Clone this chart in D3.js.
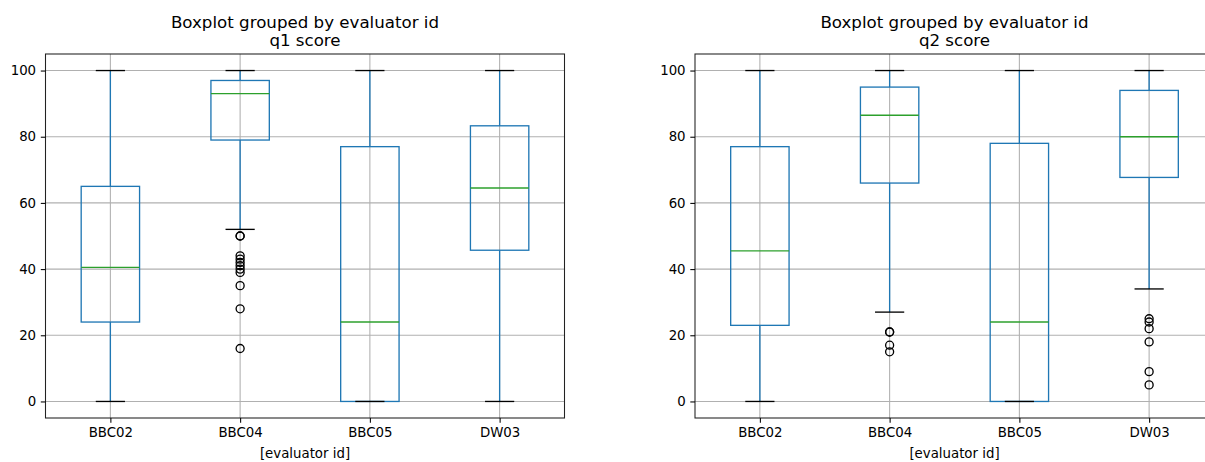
<!DOCTYPE html>
<html>
<head>
<meta charset="utf-8">
<script src="https://cdn.jsdelivr.net/npm/d3@7"></script>
<style>
  html, body { margin: 0; padding: 0; background: #fff; }
  svg { display: block; }
  text { font-family: "DejaVu Sans", sans-serif; fill: #000; }
</style>
</head>
<body>
<svg id="chart" width="1205" height="462"></svg>
<script>
const categories = ["BBC02", "BBC04", "BBC05", "DW03"];
const yTicks = [0, 20, 40, 60, 80, 100];

// q1 score
const q1Low = [0, 52, 0, 0];
const q1Q1 = [24, 79, 0, 45.7];
const q1Median = [40.5, 93, 24, 64.5];
const q1Q3 = [65, 97, 77, 83.3];
const q1High = [100, 100, 100, 100];
const q1Outliers = [[], [50, 50, 44, 43, 42, 41, 40, 39, 35, 28, 16], [], []];

// q2 score
const q2Low = [0, 27, 0, 34];
const q2Q1 = [23, 66, 0, 67.7];
const q2Median = [45.5, 86.5, 24, 80];
const q2Q3 = [77, 95, 78, 94];
const q2High = [100, 100, 100, 100];
const q2Outliers = [[], [21, 21, 17, 15], [], [25, 24, 22, 18, 9, 5]];

const panels = [
  { title: "q1 score", left: 45.5, low: q1Low, q1: q1Q1, med: q1Median, q3: q1Q3, high: q1High, out: q1Outliers },
  { title: "q2 score", left: 695, low: q2Low, q1: q2Q1, med: q2Median, q3: q2Q3, high: q2High, out: q2Outliers }
];

const svg = d3.select("#chart");
const W = 519, plotTop = 54, plotBottom = 418;
const blue = "#1f77b4", green = "#2ca02c", grid = "#b0b0b0";

panels.forEach(p => {
  const x = d3.scaleLinear().domain([0.5, 4.5]).range([p.left, p.left + W]);
  const y = d3.scaleLinear().domain([-5, 105]).range([plotBottom, plotTop]);
  const g = svg.append("g");

  // grid
  g.selectAll(".gy").data(yTicks).join("line")
    .attr("x1", p.left).attr("x2", p.left + W)
    .attr("y1", d => y(d)).attr("y2", d => y(d))
    .attr("stroke", grid).attr("stroke-width", 1.07);
  g.selectAll(".gx").data(categories).join("line")
    .attr("x1", (d, i) => x(i + 1)).attr("x2", (d, i) => x(i + 1))
    .attr("y1", plotTop).attr("y2", plotBottom)
    .attr("stroke", grid).attr("stroke-width", 1.07);

  const bw = 0.45, cw = 0.225;
  categories.forEach((c, i) => {
    const cx = x(i + 1);
    const hb = (x(1 + bw / 2) - x(1));
    const hc = (x(1 + cw / 2) - x(1));
    // whiskers
    g.append("line").attr("x1", cx).attr("x2", cx)
      .attr("y1", y(p.q3[i])).attr("y2", y(p.high[i]))
      .attr("stroke", blue).attr("stroke-width", 1.33);
    g.append("line").attr("x1", cx).attr("x2", cx)
      .attr("y1", y(p.q1[i])).attr("y2", y(p.low[i]))
      .attr("stroke", blue).attr("stroke-width", 1.33);
    // box
    g.append("rect").attr("x", cx - hb).attr("width", 2 * hb)
      .attr("y", y(p.q3[i])).attr("height", y(p.q1[i]) - y(p.q3[i]))
      .attr("fill", "none").attr("stroke", blue).attr("stroke-width", 1.33);
    // caps
    [p.high[i], p.low[i]].forEach(v => {
      g.append("line").attr("x1", cx - hc).attr("x2", cx + hc)
        .attr("y1", y(v)).attr("y2", y(v))
        .attr("stroke", "#000").attr("stroke-width", 1.33);
    });
    // median
    g.append("line").attr("x1", cx - hb).attr("x2", cx + hb)
      .attr("y1", y(p.med[i])).attr("y2", y(p.med[i]))
      .attr("stroke", green).attr("stroke-width", 1.33);
    // outliers
    g.selectAll(null).data(p.out[i]).join("circle")
      .attr("cx", cx).attr("cy", d => y(d)).attr("r", 4)
      .attr("fill", "none").attr("stroke", "#000").attr("stroke-width", 1.33);
  });

  // frame
  g.append("rect").attr("x", p.left).attr("y", plotTop).attr("width", W).attr("height", plotBottom - plotTop)
    .attr("fill", "none").attr("stroke", "#222").attr("stroke-width", 1.07);

  // y axis
  const ya = d3.axisLeft(y).tickValues(yTicks).tickSize(4.7).tickPadding(4.7);
  const yg = g.append("g").attr("transform", `translate(${p.left},0)`).call(ya);
  yg.select(".domain").remove();
  yg.selectAll(".tick line").attr("stroke", "#000").attr("stroke-width", 1.07);
  yg.selectAll(".tick text").attr("font-size", 13.33).attr("font-family", "DejaVu Sans").attr("fill", "#000");

  // x axis
  const xa = d3.axisBottom(x).tickValues([1, 2, 3, 4]).tickFormat(d => categories[d - 1]).tickSize(4.7).tickPadding(4.7);
  const xg = g.append("g").attr("transform", `translate(0,${plotBottom})`).call(xa);
  xg.select(".domain").remove();
  xg.selectAll(".tick line").attr("stroke", "#000").attr("stroke-width", 1.07);
  xg.selectAll(".tick text").attr("font-size", 13.33).attr("font-family", "DejaVu Sans").attr("fill", "#000");

  // x label
  g.append("text").attr("x", p.left + W / 2).attr("y", 458)
    .attr("text-anchor", "middle").attr("font-size", 13.33).text("[evaluator id]");

  // title
  g.append("text").attr("x", p.left + W / 2).attr("y", 28)
    .attr("text-anchor", "middle").attr("font-size", 16.67).text("Boxplot grouped by evaluator id");
  g.append("text").attr("x", p.left + W / 2).attr("y", 46)
    .attr("text-anchor", "middle").attr("font-size", 16.67).text(p.title);
});
</script>
</body>
</html>
